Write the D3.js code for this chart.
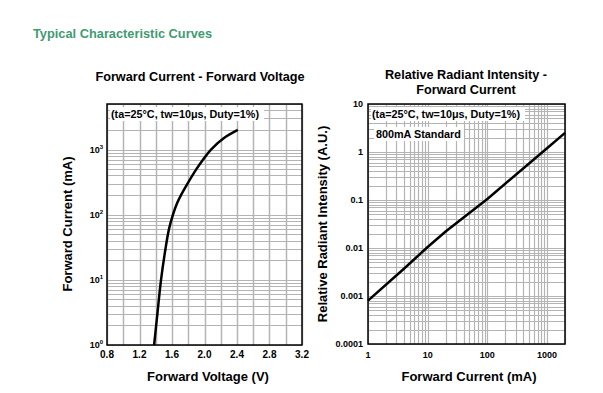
<!DOCTYPE html>
<html>
<head>
<meta charset="utf-8">
<script src="https://cdn.jsdelivr.net/npm/d3@7"></script>
<style>
  body { margin: 0; background: #fff; }
  svg { font-family: "Liberation Sans", Arial, sans-serif; }
</style>
</head>
<body>
<svg id="chart" width="603" height="393"></svg>
<script>
// forward current vs forward voltage (left chart)
var vfVoltage = [1.38, 1.42, 1.465, 1.52, 1.563, 1.612, 1.662, 1.711, 1.791, 1.90, 1.981, 2.08, 2.24, 2.41];
var vfCurrent = [1, 3, 10, 30, 60, 100, 150, 200, 300, 500, 700, 1000, 1500, 2000];
var vTicks = [0.8, 1.2, 1.6, 2.0, 2.4, 2.8, 3.2];
var vGrid = [1.0, 1.4, 1.8, 2.2, 2.6, 3.0];
var iExponents = [0, 1, 2, 3];

// relative radiant intensity vs forward current (right chart)
var riCurrent = [1, 4, 10, 20, 100, 1000, 2000];
var riIntensity = [0.0008, 0.0037, 0.0105, 0.022, 0.105, 1.2, 2.5];
var riXTicks = [1, 10, 100, 1000];
var riYTicks = [10, 1, 0.1, 0.01, 0.001, 0.0001];

var note = "(ta=25\u00b0C, tw=10\u03bcs, Duty=1%)";
var gridColor = "#b4b4b4";

var svg = d3.select("#chart");

svg.append("text")
  .attr("x", 33).attr("y", 38)
  .attr("fill", "#3f9b72")
  .style("font-size", "12.8px").style("font-weight", "bold")
  .text("Typical Characteristic Curves");

// ---------- left chart ----------
var L = {left: 107, right: 302, top: 104, bottom: 345};
var xV = d3.scaleLinear().domain([0.8, 3.2]).range([L.left, L.right]);
var yI = d3.scaleLog().domain([1, 5000]).range([L.bottom, L.top]);

var gl = svg.append("g");

gl.selectAll("line.hg").data(yI.ticks()).enter().append("line")
  .attr("x1", L.left).attr("x2", L.right)
  .attr("y1", d => Math.round(yI(d)) + 0.5).attr("y2", d => Math.round(yI(d)) + 0.5)
  .attr("stroke", gridColor).attr("stroke-width", 1.2);

gl.selectAll("line.vg").data(vTicks.concat(vGrid)).enter().append("line")
  .attr("x1", d => Math.round(xV(d)) + 0.5).attr("x2", d => Math.round(xV(d)) + 0.5)
  .attr("y1", L.top).attr("y2", L.bottom)
  .attr("stroke", gridColor).attr("stroke-width", 1.5);

gl.append("rect")
  .attr("x", L.left).attr("y", L.top)
  .attr("width", L.right - L.left).attr("height", L.bottom - L.top)
  .attr("fill", "none").attr("stroke", "#000").attr("stroke-width", 1.5);

var lineL = d3.line()
  .x((d, i) => xV(vfVoltage[i]))
  .y((d, i) => yI(vfCurrent[i]))
  .curve(d3.curveCatmullRom.alpha(0.5));

gl.append("path").datum(vfVoltage)
  .attr("d", lineL)
  .attr("fill", "none").attr("stroke", "#000").attr("stroke-width", 2.5);

gl.selectAll("text.xt").data(vTicks).enter().append("text")
  .attr("x", d => xV(d)).attr("y", L.bottom + 13)
  .attr("text-anchor", "middle")
  .style("font-size", "10px").style("font-weight", "bold")
  .text(d => d.toFixed(1));

var yt = gl.selectAll("text.yt").data(iExponents).enter().append("text")
  .attr("x", L.left - 4).attr("y", d => yI(Math.pow(10, d)) + 3)
  .attr("text-anchor", "end")
  .style("font-size", "9px").style("font-weight", "bold");
yt.append("tspan").text("10");
yt.append("tspan").attr("dy", -4).style("font-size", "6px").text(d => d);

var noteL = gl.append("g");
noteL.append("rect").attr("x", L.left + 3).attr("y", L.top + 3).attr("width", 154).attr("height", 14).attr("fill", "#fff");
noteL.append("text").attr("x", L.left + 4).attr("y", L.top + 14)
  .style("font-size", "10.8px").style("font-weight", "bold").text(note);

svg.append("text")
  .attr("x", 200).attr("y", 81).attr("text-anchor", "middle")
  .style("font-size", "12.7px").style("font-weight", "bold")
  .text("Forward Current - Forward Voltage");

svg.append("text")
  .attr("x", 208).attr("y", 381).attr("text-anchor", "middle")
  .style("font-size", "13px").style("font-weight", "bold")
  .text("Forward Voltage (V)");

svg.append("text")
  .attr("transform", "translate(72,224) rotate(-90)").attr("text-anchor", "middle")
  .style("font-size", "13px").style("font-weight", "bold")
  .text("Forward Current (mA)");

// ---------- right chart ----------
var R = {left: 368, right: 565, top: 104, bottom: 344};
var xC = d3.scaleLog().domain([1, 2000]).range([R.left, R.right]);
var yR = d3.scaleLog().domain([0.0001, 10]).range([R.bottom, R.top]);

var gr = svg.append("g");

gr.selectAll("line.hg").data(yR.ticks()).enter().append("line")
  .attr("x1", R.left).attr("x2", R.right)
  .attr("y1", d => Math.round(yR(d)) + 0.5).attr("y2", d => Math.round(yR(d)) + 0.5)
  .attr("stroke", gridColor).attr("stroke-width", 1.2);

gr.selectAll("line.vg").data(xC.ticks()).enter().append("line")
  .attr("x1", d => Math.round(xC(d)) + 0.5).attr("x2", d => Math.round(xC(d)) + 0.5)
  .attr("y1", R.top).attr("y2", R.bottom)
  .attr("stroke", gridColor).attr("stroke-width", 1.2);

gr.append("rect")
  .attr("x", R.left).attr("y", R.top)
  .attr("width", R.right - R.left).attr("height", R.bottom - R.top)
  .attr("fill", "none").attr("stroke", "#000").attr("stroke-width", 1.5);

var lineR = d3.line()
  .x((d, i) => xC(riCurrent[i]))
  .y((d, i) => yR(riIntensity[i]));

gr.append("path").datum(riCurrent)
  .attr("d", lineR)
  .attr("fill", "none").attr("stroke", "#000").attr("stroke-width", 2.5);

gr.selectAll("text.xt").data(riXTicks).enter().append("text")
  .attr("x", d => xC(d)).attr("y", R.bottom + 14)
  .attr("text-anchor", "middle")
  .style("font-size", "9px").style("font-weight", "bold")
  .text(d => d);

gr.selectAll("text.yt").data(riYTicks).enter().append("text")
  .attr("x", R.left - 5).attr("y", d => yR(d) + 3)
  .attr("text-anchor", "end")
  .style("font-size", "9px").style("font-weight", "bold")
  .text(d => String(d));

var noteR = gr.append("g");
noteR.append("rect").attr("x", R.left + 3).attr("y", R.top + 3).attr("width", 154).attr("height", 14).attr("fill", "#fff");
noteR.append("text").attr("x", R.left + 4).attr("y", R.top + 14)
  .style("font-size", "10.8px").style("font-weight", "bold").text(note);
noteR.append("rect").attr("x", R.left + 6).attr("y", R.top + 23).attr("width", 90).attr("height", 14).attr("fill", "#fff");
noteR.append("text").attr("x", R.left + 8).attr("y", R.top + 34)
  .style("font-size", "10.8px").style("font-weight", "bold").text("800mA Standard");

svg.append("text")
  .attr("x", 466).attr("y", 79).attr("text-anchor", "middle")
  .style("font-size", "12.7px").style("font-weight", "bold")
  .text("Relative Radiant Intensity -");
svg.append("text")
  .attr("x", 466).attr("y", 94).attr("text-anchor", "middle")
  .style("font-size", "12.7px").style("font-weight", "bold")
  .text("Forward Current");

svg.append("text")
  .attr("x", 469).attr("y", 381).attr("text-anchor", "middle")
  .style("font-size", "13px").style("font-weight", "bold")
  .text("Forward Current (mA)");

svg.append("text")
  .attr("transform", "translate(327,224) rotate(-90)").attr("text-anchor", "middle")
  .style("font-size", "13px").style("font-weight", "bold")
  .text("Relative Radiant Intensity (A.U.)");
</script>
</body>
</html>
